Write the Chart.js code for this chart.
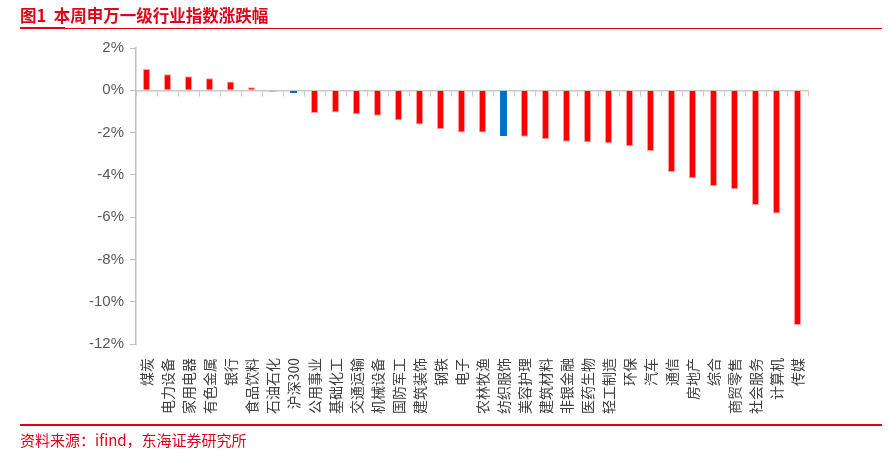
<!DOCTYPE html>
<html>
<head>
<meta charset="utf-8">
<script src="https://cdn.jsdelivr.net/npm/chart.js@4.4.1/dist/chart.umd.min.js"></script>
<style>
    body { margin: 0; background: #fff; width: 889px; height: 466px; overflow: hidden; position: relative; font-family: "Noto Sans CJK SC", sans-serif; }
    #title { position: absolute; left: 20px; top: 3px; color: #e0001b; font-size: 16.5px; font-weight: bold; }
    #title_line { position: absolute; left: 20px; top: 28px; width: 862px; height: 1px; background: #e0001b; }
    #title_mark { position: absolute; left: 20px; top: 27px; width: 45px; height: 2px; background: #e0001b; }
    #foot_line { position: absolute; left: 20px; top: 424px; width: 862px; height: 2px; background: #e0001b; }
    #source { position: absolute; left: 20px; top: 429px; color: #e0001b; font-size: 15px; }
    #wrap { position: absolute; left: 0; top: 0; width: 889px; height: 466px; }
</style>
</head>
<body>
<div id="wrap"><canvas id="graph_canvas"></canvas></div>
<div id="title">图1&nbsp;&nbsp;本周申万一级行业指数涨跌幅</div>
<div id="title_line"></div>
<div id="title_mark"></div>
<div id="foot_line"></div>
<div id="source">资料来源：ifind，东海证券研究所</div>
<script>
const INDUSTRIES = ["煤炭", "电力设备", "家用电器", "有色金属", "银行", "食品饮料", "石油石化", "沪深300",
    "公用事业", "基础化工", "交通运输", "机械设备", "国防军工", "建筑装饰", "钢铁", "电子",
    "农林牧渔", "纺织服饰", "美容护理", "建筑材料", "非银金融", "医药生物", "轻工制造", "环保",
    "汽车", "通信", "房地产", "综合", "商贸零售", "社会服务", "计算机", "传媒"];
const CHANGES = [1.01, 0.76, 0.66, 0.57, 0.41, 0.14, -0.07, -0.13,
    -1.07, -1.05, -1.13, -1.21, -1.42, -1.62, -1.84, -2.0,
    -2.0, -2.16, -2.2, -2.31, -2.44, -2.46, -2.5, -2.65,
    -2.87, -3.87, -4.16, -4.53, -4.68, -5.43, -5.83, -11.1];
const HIGHLIGHT = ["沪深300", "纺织服饰"];
const Y_MIN = -12, Y_MAX = 2, Y_STEP = 2;

const barColors = INDUSTRIES.map(n => HIGHLIGHT.includes(n) ? '#0070c0' : '#ff0000');
const borderColors = INDUSTRIES.map(n => HIGHLIGHT.includes(n) ? '#0070c0' : '#ffa0a0');

document.addEventListener("DOMContentLoaded", function () {
    Chart.defaults.font.family = '"Liberation Sans", Arial, sans-serif';
    Chart.defaults.color = '#595959';

    new Chart(document.getElementById('graph_canvas'), {
        type: 'bar',
        data: {
            labels: INDUSTRIES,
            datasets: [{
                data: CHANGES,
                backgroundColor: barColors,
                borderColor: borderColors,
                borderWidth: 1,
                barPercentage: 0.34,
                categoryPercentage: 1
            }]
        },
        options: {
            responsive: true,
            maintainAspectRatio: false,
            animation: false,
            layout: { padding: { top: 48, right: 81, bottom: 0, left: 0 } },
            plugins: { legend: { display: false }, tooltip: { enabled: false } },
            scales: {
                x: {
                    position: 'bottom',
                    grid: { display: false },
                    border: { display: false },
                    ticks: {
                        autoSkip: false, minRotation: 90, maxRotation: 90, padding: 6,
                        color: '#404040',
                        font: { family: '"Noto Sans CJK SC", sans-serif', size: 14 }
                    },
                    afterFit: s => { s.height = 122; }
                },
                zero: {
                    type: 'category',
                    axis: 'x',
                    position: { y: 0 },
                    grid: { drawOnChartArea: false, tickLength: 5, color: '#c8c8c8', offset: true },
                    border: { color: '#c8c8c8', width: 1.5 },
                    ticks: { display: false }
                },
                y: {
                    min: Y_MIN, max: Y_MAX,
                    grid: { drawOnChartArea: false, tickLength: 6, color: '#c0c0c0' },
                    border: { color: '#c0c0c0', width: 1.5 },
                    ticks: {
                        stepSize: Y_STEP, padding: 6,
                        font: { size: 15 },
                        callback: v => v + '%'
                    },
                    afterFit: s => { s.width = 136; }
                }
            }
        }
    });
});
</script>
</body>
</html>
